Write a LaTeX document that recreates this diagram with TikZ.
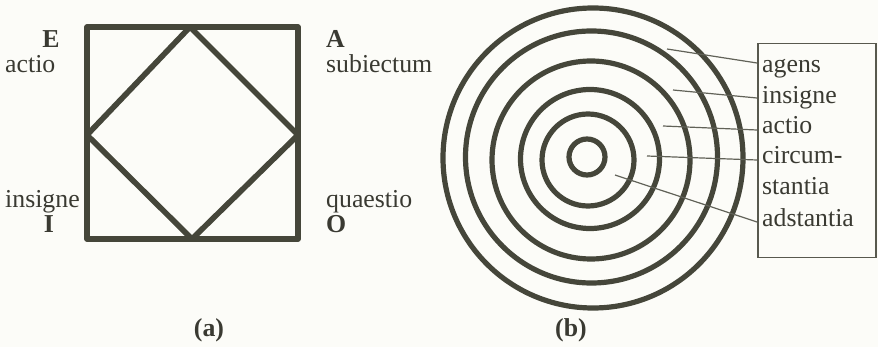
\documentclass[tikz,border=0pt]{standalone}
\usepackage{fontspec}
\setmainfont{Liberation Serif}
\definecolor{ink}{HTML}{45463A}
\definecolor{txt}{HTML}{3A3A32}
\definecolor{paper}{HTML}{FCFCF8}
\begin{document}
\begin{tikzpicture}[x=1pt,y=-1pt,
  thick line/.style={draw=ink,line width=5.6pt,line join=round},
  ring/.style={circle,draw=ink,line width=5.2pt,inner sep=0pt},
  leader/.style={draw=ink!85,line width=1.2pt},
  lbl/.style={text=txt,font=\fontsize{25.8}{30}\selectfont,inner sep=0pt},
  blbl/.style={lbl,font=\fontsize{25.8}{30}\selectfont\bfseries},
  legendbox/.style={draw=ink!90,line width=1.5pt,inner sep=0pt,anchor=north west}]
\fill[paper] (0,0) rectangle (878,347);
\useasboundingbox (0,0) rectangle (878,347);

% ---------- (a) square of opposition ----------
\coordinate (tl) at (87,27);
\coordinate (tr) at (298,27);
\coordinate (br) at (298,239);
\coordinate (bl) at (87,239);
\coordinate (dt) at (190,27);
\coordinate (dr) at (298,135);
\coordinate (db) at (192,239);
\coordinate (dl) at (87,135);
\draw[thick line] (tl) -- (tr) -- (br) -- (bl) -- cycle;
\draw[thick line] (dt) -- (dr) -- (db) -- (dl) -- cycle;

\node[blbl,anchor=base] (E) at (51,48) {E};
\node[lbl,anchor=base west] (actioA) at (5,73) {actio};
\node[lbl,anchor=base west] (insigneA) at (5,208) {insigne};
\node[blbl,anchor=base] (I) at (49,233) {I};
\node[blbl,anchor=base west] (A) at (326,48) {A};
\node[lbl,anchor=base west] (subiectum) at (326,73) {subiectum};
\node[lbl,anchor=base west] (quaestio) at (326,208) {quaestio};
\node[blbl,anchor=base west] (O) at (326,233) {O};
\node[blbl,anchor=base] (capa) at (209,336) {(a)};

% ---------- (b) concentric circles ----------
\node[ring,minimum size=36pt] (r1) at (587,157) {};
\node[ring,minimum size=92pt] (r2) at (588,160) {};
\node[ring,minimum size=139pt] (r3) at (590,159) {};
\node[ring,minimum size=198pt] (r4) at (591,160) {};
\node[ring,minimum size=252pt] (r5) at (591.5,157) {};
\node[ring,minimum size=300pt] (r6) at (593,158) {};

\node[legendbox,minimum width=118pt,minimum height=214pt] (legend) at (757,43) {};
\node[lbl,anchor=base west] (agens) at (762,73) {agens};
\node[lbl,anchor=base west] (insigneB) at (762,104) {insigne};
\node[lbl,anchor=base west] (actioB) at (762,134) {actio};
\node[lbl,anchor=base west] (circum) at (762,164) {circum-};
\node[lbl,anchor=base west] (stantia) at (762,195) {stantia};
\node[lbl,anchor=base west] (adstantia) at (762,227) {adstantia};

\coordinate (s1) at (667,49);
\coordinate (s2) at (673,90);
\coordinate (s3) at (663,126);
\coordinate (s4) at (647,156);
\coordinate (s5) at (615,175);
\coordinate (e1) at (legend.west |- 0,63);
\coordinate (e2) at (legend.west |- 0,98);
\coordinate (e3) at (legend.west |- 0,130);
\coordinate (e4) at (legend.west |- 0,160);
\coordinate (e5) at (legend.west |- 0,222);
\draw[leader] (s1) -- (e1);
\draw[leader] (s2) -- (e2);
\draw[leader] (s3) -- (e3);
\draw[leader] (s4) -- (e4);
\draw[leader] (s5) -- (e5);

\node[blbl,anchor=base] (capb) at (571,336) {(b)};
\end{tikzpicture}
\end{document}
